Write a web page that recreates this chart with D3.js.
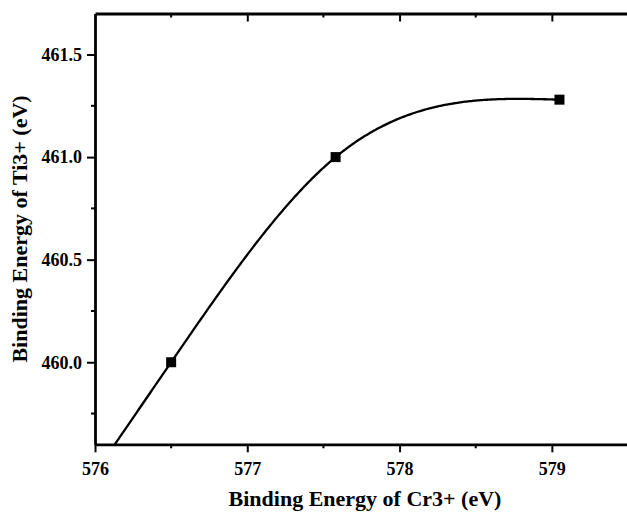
<!DOCTYPE html>
<html>
<head>
<meta charset="utf-8">
<script src="https://cdn.jsdelivr.net/npm/d3@7"></script>
<style>
  html, body { margin: 0; padding: 0; background: #fff; }
  svg { display: block; }
</style>
</head>
<body>
<svg id="chart" width="627" height="512"></svg>
<script>
// Measured binding energies (eV)
const crEnergy = [576.5, 577.58, 579.05];
const tiEnergy = [460.0, 461.0, 461.28];

const xTicks = [576, 577, 578, 579];
const xMinorTicks = [576.5, 577.5, 578.5];
const yTicks = [460.0, 460.5, 461.0, 461.5];
const yMinorTicks = [459.75, 460.25, 460.75, 461.25];

const xTitle = "Binding Energy of Cr3+ (eV)";
const yTitle = "Binding Energy of Ti3+ (eV)";

const FONT = "'Liberation Serif'";
const frame = { left: 95, right: 628, top: 13.5, bottom: 444.3 };

const svg = d3.select("#chart");

const x = d3.scaleLinear().domain([576, 579.5]).range([frame.left, frame.right]);
const y = d3.scaleLinear().domain([459.6, 461.7]).range([frame.bottom, frame.top]);

// Natural cubic spline y(x) through the measured points
function naturalSpline(xs, ys) {
  const n = xs.length;
  const h = [];
  for (let i = 0; i < n - 1; i++) h.push(xs[i + 1] - xs[i]);
  // Tridiagonal system for the second derivatives (free ends: M = 0)
  const M = new Array(n).fill(0);
  if (n > 2) {
    const a = [], b = [], c = [], d = [];
    for (let i = 1; i < n - 1; i++) {
      a.push(h[i - 1]);
      b.push(2 * (h[i - 1] + h[i]));
      c.push(h[i]);
      d.push(6 * ((ys[i + 1] - ys[i]) / h[i] - (ys[i] - ys[i - 1]) / h[i - 1]));
    }
    const m = b.length;
    for (let i = 1; i < m; i++) {
      const w = a[i] / b[i - 1];
      b[i] -= w * c[i - 1];
      d[i] -= w * d[i - 1];
    }
    const sol = new Array(m);
    sol[m - 1] = d[m - 1] / b[m - 1];
    for (let i = m - 2; i >= 0; i--) sol[i] = (d[i] - c[i] * sol[i + 1]) / b[i];
    for (let i = 0; i < m; i++) M[i + 1] = sol[i];
  }
  const slope0 = (ys[1] - ys[0]) / h[0] - h[0] * (2 * M[0] + M[1]) / 6;
  return function (xv) {
    if (xv <= xs[0]) return ys[0] + slope0 * (xv - xs[0]); // straight run-in before the first point
    let i = 0;
    while (i < n - 2 && xv > xs[i + 1]) i++;
    const hi = h[i];
    const A = xs[i + 1] - xv, B = xv - xs[i];
    return M[i] * A * A * A / (6 * hi) + M[i + 1] * B * B * B / (6 * hi)
      + (ys[i] / hi - M[i] * hi / 6) * A + (ys[i + 1] / hi - M[i + 1] * hi / 6) * B;
  };
}

const f = naturalSpline(crEnergy, tiEnergy);
const xStart = x.domain()[0];
const xEnd = crEnergy[crEnergy.length - 1];
const curvePts = d3.range(0, 301).map(k => {
  const xv = xStart + (xEnd - xStart) * k / 300;
  return [xv, f(xv)];
});

// Clip to the plot frame
svg.append("clipPath").attr("id", "plotClip")
  .append("rect").attr("x", frame.left).attr("y", frame.top)
  .attr("width", frame.right - frame.left).attr("height", frame.bottom - frame.top);

svg.append("path")
  .datum(curvePts)
  .attr("clip-path", "url(#plotClip)")
  .attr("fill", "none")
  .attr("stroke", "#000")
  .attr("stroke-width", 2.3)
  .attr("d", d3.line().x(d => x(d[0])).y(d => y(d[1])));

// Square markers
const ms = 10;
svg.selectAll("rect.pt")
  .data(crEnergy.map((c, i) => [c, tiEnergy[i]]))
  .join("rect")
  .attr("class", "pt")
  .attr("x", d => x(d[0]) - ms / 2)
  .attr("y", d => y(d[1]) - ms / 2)
  .attr("width", ms)
  .attr("height", ms)
  .attr("fill", "#000");

// Axes
const axisW = 2.8;
const majorLen = 8, minorLen = 4;

function styleAxis(g) {
  g.attr("font-family", FONT).attr("font-size", 18).attr("font-weight", "bold");
  g.select(".domain").attr("stroke", "#000").attr("stroke-width", axisW);
  g.selectAll(".tick line").attr("stroke", "#000").attr("stroke-width", 2);
  g.selectAll("text").attr("fill", "#000")
    .attr("font-family", FONT).attr("font-weight", "bold").attr("font-size", 18);
}

// Bottom axis
const gx = svg.append("g").attr("transform", `translate(0,${frame.bottom})`)
  .call(d3.axisBottom(x).tickValues(xTicks).tickFormat(d3.format("d"))
    .tickSizeInner(majorLen).tickSizeOuter(0).tickPadding(10));
styleAxis(gx);
gx.append("g").selectAll("line").data(xMinorTicks).join("line")
  .attr("x1", d => x(d)).attr("x2", d => x(d)).attr("y1", 0).attr("y2", minorLen)
  .attr("stroke", "#000").attr("stroke-width", 2);

// Top axis (ticks pointing inward, no labels)
const gt = svg.append("g").attr("transform", `translate(0,${frame.top})`)
  .call(d3.axisBottom(x).tickValues(xTicks.filter(v => v > 576)).tickFormat("")
    .tickSizeInner(majorLen).tickSizeOuter(0));
styleAxis(gt);
gt.append("g").selectAll("line").data(xMinorTicks).join("line")
  .attr("x1", d => x(d)).attr("x2", d => x(d)).attr("y1", 0).attr("y2", minorLen)
  .attr("stroke", "#000").attr("stroke-width", 2);

// Left axis
const gy = svg.append("g").attr("transform", `translate(${frame.left},0)`)
  .call(d3.axisLeft(y).tickValues(yTicks).tickFormat(d3.format(".1f"))
    .tickSizeInner(majorLen).tickSizeOuter(0).tickPadding(5));
styleAxis(gy);
gy.append("g").selectAll("line").data(yMinorTicks).join("line")
  .attr("x1", 0).attr("x2", -minorLen).attr("y1", d => y(d)).attr("y2", d => y(d))
  .attr("stroke", "#000").attr("stroke-width", 2);

// Axis titles
svg.append("text")
  .attr("x", 365).attr("y", 506)
  .attr("text-anchor", "middle")
  .attr("font-family", FONT).attr("font-weight", "bold").attr("font-size", 22)
  .attr("fill", "#000")
  .text(xTitle);

svg.append("text")
  .attr("transform", "translate(27,229) rotate(-90)")
  .attr("text-anchor", "middle")
  .attr("font-family", FONT).attr("font-weight", "bold").attr("font-size", 22)
  .attr("fill", "#000")
  .text(yTitle);
</script>
</body>
</html>
